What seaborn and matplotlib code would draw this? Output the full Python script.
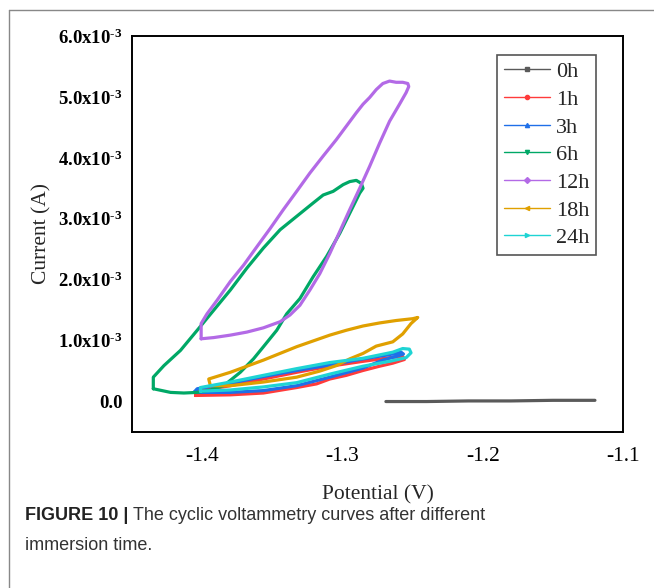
import pandas as pd
import seaborn as sns
import matplotlib.pyplot as plt
from matplotlib.lines import Line2D

# Cyclic voltammetry loops (potential in V, current in mA)
pot_0h = [-1.269, -1.240, -1.210, -1.180, -1.150, -1.120]
cur_0h = [0.00, 0.00, 0.01, 0.01, 0.02, 0.02]

pot_1h = [-1.4047, -1.3799, -1.3563, -1.3326, -1.3184, -1.3090, -1.2972, -1.2853, -1.2735,
          -1.2641, -1.2558, -1.2570, -1.2664, -1.2853, -1.3090, -1.3326, -1.3563, -1.3799,
          -1.4035, -1.4047]
cur_1h = [0.10, 0.11, 0.14, 0.23, 0.29, 0.37, 0.43, 0.51, 0.58,
          0.63, 0.69, 0.74, 0.72, 0.66, 0.58, 0.48, 0.37, 0.26,
          0.17, 0.10]

pot_3h = [-1.4059, -1.3799, -1.3563, -1.3326, -1.3090, -1.2853, -1.2712, -1.2617, -1.2565,
          -1.2582, -1.2664, -1.2853, -1.3090, -1.3326, -1.3563, -1.3799, -1.4035, -1.4059]
cur_3h = [0.15, 0.15, 0.18, 0.26, 0.40, 0.55, 0.68, 0.74, 0.78,
          0.81, 0.77, 0.70, 0.60, 0.51, 0.41, 0.30, 0.21, 0.15]

pot_6h = [-1.4348, -1.4225, -1.4130, -1.4035, -1.3941, -1.3846, -1.3728, -1.3634, -1.3563,
          -1.3468, -1.3397, -1.3303, -1.3208, -1.3113, -1.3019, -1.2948, -1.2877, -1.2853,
          -1.2865, -1.2901, -1.2948, -1.2995, -1.3066, -1.3137, -1.3208, -1.3326, -1.3444,
          -1.3563, -1.3681, -1.3799, -1.3917, -1.4035, -1.4154, -1.4272, -1.4348, -1.4348]
cur_6h = [0.21, 0.15, 0.14, 0.15, 0.19, 0.26, 0.48, 0.70, 0.90,
          1.17, 1.44, 1.69, 2.05, 2.38, 2.76, 3.09, 3.42, 3.50,
          3.58, 3.63, 3.61, 3.56, 3.45, 3.39, 3.26, 3.04, 2.82,
          2.52, 2.19, 1.83, 1.50, 1.17, 0.84, 0.59, 0.40, 0.21]

pot_12h = [-1.4007, -1.3917, -1.3799, -1.3681, -1.3563, -1.3444, -1.3374, -1.3303, -1.3232,
           -1.3161, -1.3090, -1.3019, -1.2948, -1.2877, -1.2806, -1.2735, -1.2664, -1.2593,
           -1.2546, -1.2527, -1.2534, -1.2570, -1.2617, -1.2664, -1.2712, -1.2759, -1.2806,
           -1.2853, -1.2901, -1.2972, -1.3043, -1.3137, -1.3232, -1.3326, -1.3421, -1.3515,
           -1.3610, -1.3704, -1.3799, -1.3894, -1.3965, -1.4007, -1.4007]
cur_12h = [1.03, 1.05, 1.09, 1.14, 1.21, 1.31, 1.42, 1.58, 1.83,
           2.10, 2.43, 2.79, 3.15, 3.50, 3.86, 4.24, 4.60, 4.88,
           5.07, 5.17, 5.22, 5.24, 5.24, 5.26, 5.22, 5.12, 4.99,
           4.88, 4.74, 4.52, 4.30, 4.03, 3.75, 3.45, 3.15, 2.84,
           2.54, 2.24, 1.97, 1.66, 1.44, 1.28, 1.03]

pot_18h = [-1.3941, -1.3799, -1.3563, -1.3326, -1.3161, -1.3043, -1.2948, -1.2853, -1.2759,
           -1.2641, -1.2570, -1.2511, -1.2463, -1.2499, -1.2617, -1.2735, -1.2853, -1.2972,
           -1.3090, -1.3326, -1.3563, -1.3799, -1.3953, -1.3941]
cur_18h = [0.26, 0.26, 0.32, 0.40, 0.50, 0.59, 0.70, 0.79, 0.91,
           0.98, 1.11, 1.28, 1.38, 1.36, 1.33, 1.29, 1.24, 1.17,
           1.09, 0.90, 0.68, 0.48, 0.37, 0.26]

pot_24h = [-1.4012, -1.3799, -1.3563, -1.3326, -1.3090, -1.2853, -1.2664, -1.2546, -1.2511,
           -1.2523, -1.2570, -1.2641, -1.2853, -1.3090, -1.3326, -1.3563, -1.3799, -1.4012,
           -1.4012]
cur_24h = [0.17, 0.19, 0.24, 0.31, 0.45, 0.58, 0.66, 0.72, 0.80,
           0.86, 0.87, 0.81, 0.71, 0.64, 0.54, 0.43, 0.32, 0.23,
           0.17]

labels = ['0h', '1h', '3h', '6h', '12h', '18h', '24h']
pots = [pot_0h, pot_1h, pot_3h, pot_6h, pot_12h, pot_18h, pot_24h]
curs = [cur_0h, cur_1h, cur_3h, cur_6h, cur_12h, cur_18h, cur_24h]
colors = ['#5a5a5a', '#ff3b3b', '#1f6fe8', '#00a866', '#b36ae6', '#e0a000', '#1ed4d4']
markers = ['s', 'o', '^', 'v', 'D', '<', '>']

ytick_vals = [0, 1e-3, 2e-3, 3e-3, 4e-3, 5e-3, 6e-3]
ytick_labels = ['0.0', r'1.0x10$^{\text{-3}}$', r'2.0x10$^{\text{-3}}$', r'3.0x10$^{\text{-3}}$',
                r'4.0x10$^{\text{-3}}$', r'5.0x10$^{\text{-3}}$', r'6.0x10$^{\text{-3}}$']
xtick_vals = [-1.4, -1.3, -1.2, -1.1]

caption_bold = 'FIGURE 10 |'
caption_line1 = 'The cyclic voltammetry curves after different'
caption_line2 = 'immersion time.'

# long table, current converted to A
rows = []
for lab, p, c in zip(labels, pots, curs):
    for i, (pp, cc) in enumerate(zip(p, c)):
        rows.append({'time': lab, 'idx': i, 'E': pp, 'I': cc * 1e-3})
df = pd.DataFrame(rows)

sns.set_theme(style='white')
plt.rcParams['font.family'] = ['Liberation Serif', 'DejaVu Serif']
plt.rcParams['mathtext.fontset'] = 'custom'
plt.rcParams['mathtext.rm'] = 'Liberation Serif:bold'
plt.rcParams['mathtext.bf'] = 'Liberation Serif:bold'
plt.rcParams['mathtext.default'] = 'bf'
plt.rcParams['axes.unicode_minus'] = False

fig = plt.figure(figsize=(6.54, 5.88), dpi=100)
ax = fig.add_axes([0.2018, 0.2653, 0.7508, 0.6735])

palette = dict(zip(labels, colors))
sns.lineplot(data=df, x='E', y='I', hue='time', palette=palette, sort=False,
             estimator=None, units='time', linewidth=2.3, legend=False, ax=ax)

ax.set_xlim(-1.45, -1.1)
ax.set_ylim(-0.5e-3, 6e-3)
ax.set_xticks(xtick_vals)
ax.set_xticklabels([f'{v:.1f}' for v in xtick_vals], fontsize=15.5)
ax.set_yticks(ytick_vals)
ax.set_yticklabels(ytick_labels, fontsize=13.5, fontweight='bold')
ax.tick_params(direction='in', length=5, width=1.3, colors='black',
               top=False, right=False)
ax.tick_params(axis='x', pad=11)
ax.tick_params(axis='y', pad=7)
for s in ax.spines.values():
    s.set_linewidth(1.4)
    s.set_color('black')
ax.set_xlabel('Potential (V)', fontsize=15.5, labelpad=14)
ax.set_ylabel('Current (A)', fontsize=15.5, labelpad=5)

handles = [Line2D([0], [0], color=c, lw=1.0, marker=m, markersize=3)
           for c, m in zip(colors, markers)]
leg = ax.legend(handles, labels, loc='upper right', bbox_to_anchor=(0.945, 0.952),
                borderaxespad=0, fontsize=16, handlelength=2.1, labelspacing=0.32,
                handletextpad=0.25, borderpad=0.3, fancybox=False, framealpha=1)
leg.get_frame().set_edgecolor('#555555')
leg.get_frame().set_linewidth(1.2)

# caption panel border
fig.add_artist(Line2D([9 / 654, 9 / 654], [0, 1 - 10 / 588], color='#888888', lw=1.0))
fig.add_artist(Line2D([9 / 654, 1], [1 - 10 / 588, 1 - 10 / 588], color='#888888', lw=1.0))

cap_font = ['Liberation Sans', 'DejaVu Sans']
cap_size = 13
W = fig.bbox.width
y1 = 1 - 516 / 588
renderer = fig.canvas.get_renderer()

t1 = fig.text(25 / W, y1, caption_bold, fontsize=cap_size, fontweight='bold',
              family=cap_font, color='#222222', va='center')
bb = t1.get_window_extent(renderer=renderer)
fig.text((bb.x1 + 5) / W, y1, caption_line1, fontsize=cap_size,
         family=cap_font, color='#333333', va='center')
fig.text(25 / W, 1 - 545 / 588, caption_line2, fontsize=cap_size,
         family=cap_font, color='#333333', va='center')

fig.savefig('out.png', dpi=100)
